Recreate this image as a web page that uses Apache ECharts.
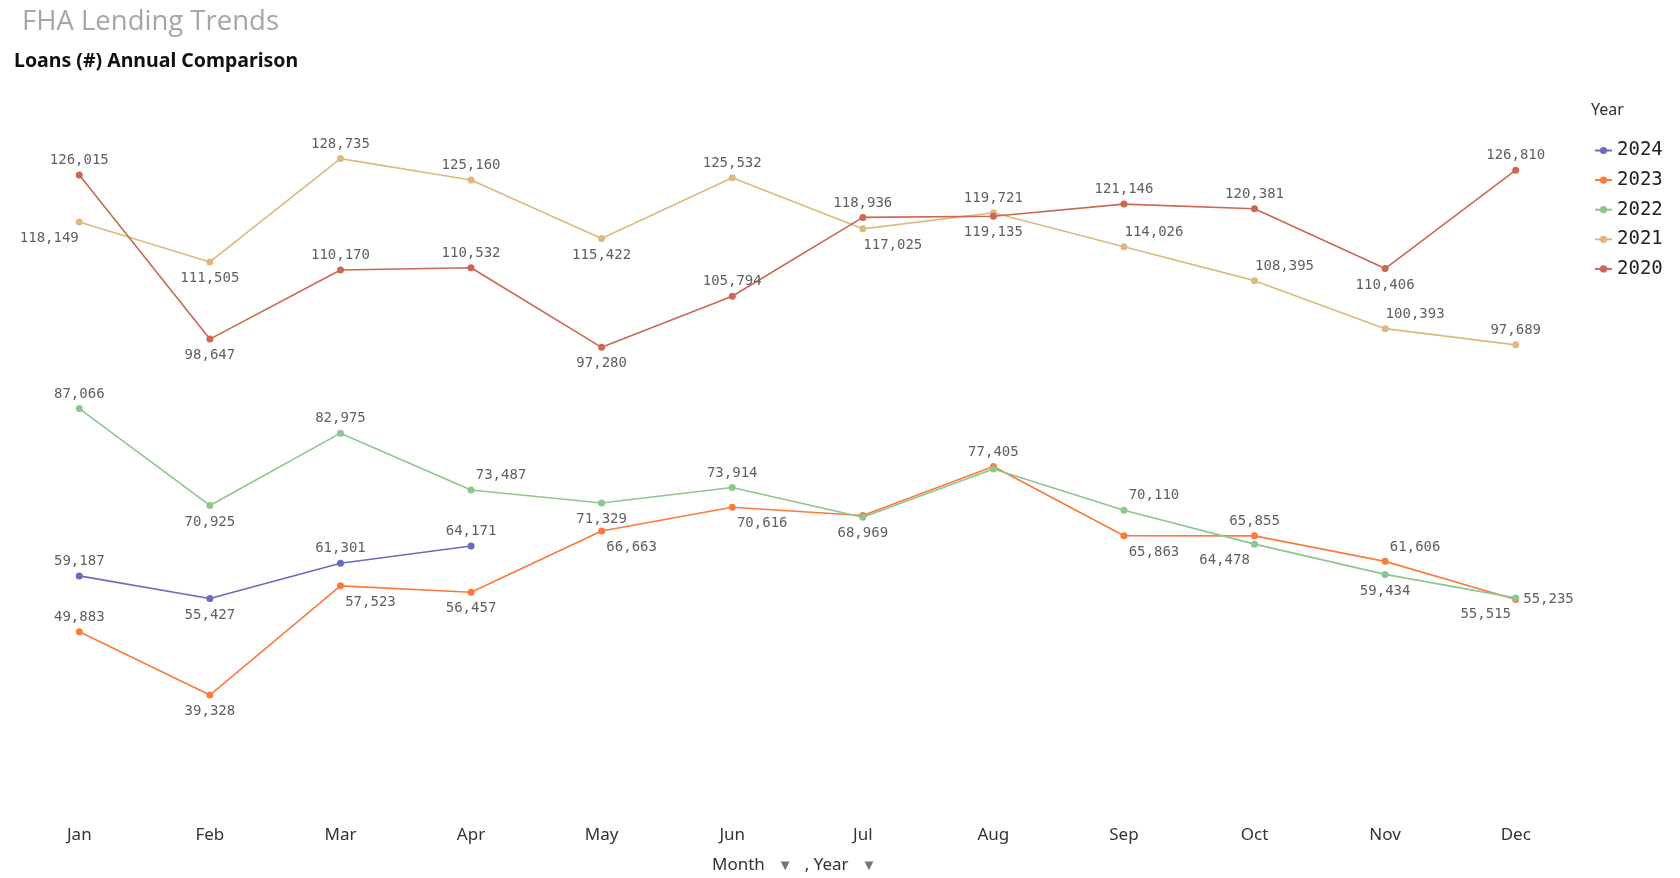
<!DOCTYPE html>
<html>
<head>
<meta charset="utf-8">
<title>FHA Lending Trends</title>
<script src="https://cdn.jsdelivr.net/npm/echarts@6/dist/echarts.min.js"></script>
<style>
  html, body { margin: 0; padding: 0; background: #fff; }
  #chart { width: 1680px; height: 878px; }
</style>
</head>
<body>
<div id="chart"></div>
<script>
const months = ['Jan', 'Feb', 'Mar', 'Apr', 'May', 'Jun', 'Jul', 'Aug', 'Sep', 'Oct', 'Nov', 'Dec']
const years = ['2024', '2023', '2022', '2021', '2020']

const loans2024 = [59187, 55427, 61301, 64171, null, null, null, null, null, null, null, null]
const loans2023 = [49883, 39328, 57523, 56457, 66663, 70616, 69250, 77405, 65863, 65855, 61606, 55235]
const loans2022 = [87066, 70925, 82975, 73487, 71329, 73914, 68969, 77000, 70110, 64478, 59434, 55515]
const loans2021 = [118149, 111505, 128735, 125160, 115422, 125532, 117025, 119721, 114026, 108395, 100393, 97689]
const loans2020 = [126015, 98647, 110170, 110532, 97280, 105794, 118936, 119135, 121146, 120381, 110406, 126810]

// where each value label sits: t top, b bottom, tr/br/bl right/left shifted, r right, '' hidden
const place2024 = ['t', 'b', 't', 't']
const place2023 = ['t', 'b', 'br', 'b', 'br', 'br', '', 't', 'br', 't', 'tr', 'r']
const place2022 = ['t', 'b', 't', 'tr', 'b', 't', 'b', '', 'tr', 'bl', 'b', 'bl']
const place2021 = ['bl', 'b', 't', 't', 'b', 't', 'br', 't', 'tr', 'tr', 'tr', 't']
const place2020 = ['t', 'b', 't', 't', 'b', 't', 't', 'b', 't', 't', 'b', 't']

const colors = ['#6b6bbd', '#fb7a3c', '#8dc68f', '#dfb880', '#cd6652']

const fmt = (v) => v.toLocaleString('en-US')

const labelFor = (code) => {
  const shift = 30
  switch (code) {
    case 't': return { show: true, position: 'top', distance: 4 }
    case 'b': return { show: true, position: 'bottom', distance: 6 }
    case 'tr': return { show: true, position: 'top', distance: 4, offset: [shift, 0] }
    case 'br': return { show: true, position: 'bottom', distance: 6, offset: [shift, 0] }
    case 'bl': return { show: true, position: 'bottom', distance: 6, offset: [-shift, 0] }
    case 'tl': return { show: true, position: 'top', distance: 4, offset: [-shift, 0] }
    case 'r': return { show: true, position: 'right', distance: 4 }
    default: return { show: false }
  }
}

const buildSeries = (name, values, places, color) => ({
  name,
  type: 'line',
  symbol: 'circle',
  symbolSize: 7,
  color,
  lineStyle: { width: 1.6, color },
  itemStyle: { color },
  data: values.map((v, i) => (v == null ? null : { value: v, label: labelFor(places[i]) })),
  label: {
    formatter: (p) => fmt(p.value),
    fontFamily: 'DejaVu Sans Mono',
    fontSize: 14,
    color: '#5f5f5f',
  },
  emphasis: { disabled: true },
})

const chart = echarts.init(document.getElementById('chart'))

const options = {
  animation: false,
  title: [
    {
      text: 'FHA Lending Trends',
      left: 17,
      top: 3,
      textStyle: { fontFamily: 'Open Sans', fontSize: 27.5, fontWeight: 'normal', color: '#a6a6a6' },
    },
    {
      text: 'Loans (#) Annual Comparison',
      left: 9,
      top: 46,
      textStyle: { fontFamily: 'Noto Sans', fontSize: 19.5, fontWeight: 'bold', color: '#111' },
    },
  ],
  legend: {
    data: years,
    orient: 'vertical',
    left: 1589,
    top: 136,
    itemWidth: 17,
    itemHeight: 9,
    itemGap: 10.6,
    textStyle: { fontFamily: 'DejaVu Sans Mono', fontSize: 19, color: '#222' },
  },
  graphic: [
    {
      type: 'text',
      left: 1591,
      top: 102,
      style: { text: 'Year', fontFamily: 'Noto Sans', fontSize: 16, fill: '#333' },
    },
    {
      type: 'text',
      left: 712,
      top: 857,
      style: {
        text: 'Month{a|▼}, Year{a|▼}',
        fontFamily: 'Noto Sans',
        fontSize: 17,
        fill: '#333',
        rich: {
          a: { fontSize: 15, fill: '#777', color: '#777', padding: [0, 12, 0, 13] },
        },
      },
    },
  ],
  grid: {
    left: 14,
    right: 99,
    top: 91,
    height: 720,
  },
  xAxis: {
    type: 'category',
    data: months,
    boundaryGap: true,
    axisLine: { show: false },
    axisTick: { show: false },
    axisLabel: { fontFamily: 'Noto Sans', fontSize: 17, color: '#333', margin: 16 },
  },
  yAxis: {
    type: 'value',
    min: 20000,
    max: 140000,
    show: false,
    splitLine: { show: false },
  },
  series: [
    buildSeries('2024', loans2024, place2024, colors[0]),
    buildSeries('2023', loans2023, place2023, colors[1]),
    buildSeries('2022', loans2022, place2022, colors[2]),
    buildSeries('2021', loans2021, place2021, colors[3]),
    buildSeries('2020', loans2020, place2020, colors[4]),
  ],
}

chart.setOption(options, true)
</script>
</body>
</html>
